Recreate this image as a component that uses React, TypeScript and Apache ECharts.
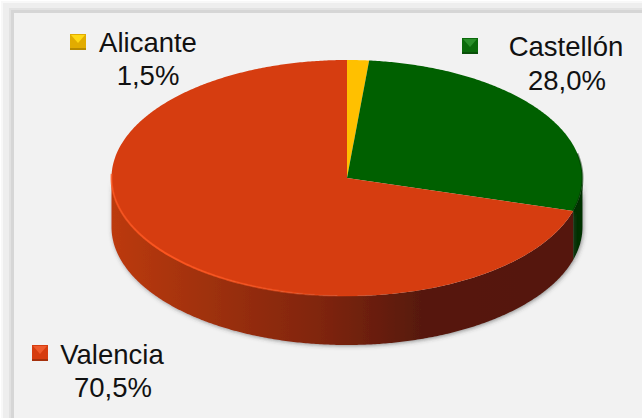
import React, { useEffect, useRef } from "react";
import * as echarts from "echarts";

const categories = ["Alicante", "Castellón", "Valencia"];
const shares = [1.5, 28.0, 70.5];
const shareLabels = ["1,5%", "28,0%", "70,5%"];

const faceColors = ["#FFC000", "#006000", "#D63D10"];
const keyLight = ["#FFD814", "#2A8F2A", "#EE5A2C"];
const keyMid = ["#E2AC00", "#0B6A0B", "#D63D10"];
const keyDark = ["#B88A00", "#0A500A", "#A5310D"];

const CX = 347;
const CY = 178;
const RX = 235.5;
const RY = 118;
const DEPTH = 49;
const FONT = "'Liberation Sans', Arial, sans-serif";
const FONT_SIZE = 27.5;
const KEY = 16;

const labelLayout = [
  { keyX: 70, keyY: 34, nameX: 148, nameY: 52, valueX: 148, valueY: 85 },
  { keyX: 462, keyY: 38, nameX: 566, nameY: 56, valueX: 567, valueY: 90 },
  { keyX: 32, keyY: 345, nameX: 112, nameY: 364, valueX: 113, valueY: 397 },
];

const total = shares.reduce((a, b) => a + b, 0);
const cumulative = (i: number) =>
  shares.slice(0, i).reduce((a, b) => a + b, 0) / total * 360;

const pt = (deg: number, dy = 0): [number, number] => {
  const r = (deg * Math.PI) / 180;
  return [CX + RX * Math.sin(r), CY - RY * Math.cos(r) + dy];
};
const arc = (a: number, b: number, dy = 0) => {
  const out: [number, number][] = [];
  const n = Math.max(2, Math.ceil(Math.abs(b - a) / 0.5));
  for (let k = 0; k <= n; k++) out.push(pt(a + ((b - a) * k) / n, dy));
  return out;
};

const renderWall = (params: any, api: any) => {
  const i = params.dataIndex;
  const a = Math.max(cumulative(i), 90);
  const b = Math.min(cumulative(i) + (api.value(1) / total) * 360, 270);
  if (b <= a) return { type: "group", children: [] };
  const pts = [...arc(a, b), ...arc(b, a, DEPTH)];
  const fill =
    i === 1
      ? "#013201"
      : new echarts.graphic.LinearGradient(1, 0, 0, 0, [
          { offset: 0, color: "#541808" },
          { offset: 0.33, color: "#571908" },
          { offset: 0.55, color: "#80250A" },
          { offset: 0.8, color: "#A0310E" },
          { offset: 1, color: "#BC3A10" },
        ]);
  return {
    type: "polygon",
    shape: { points: pts },
    style: {
      fill,
      shadowBlur: 4,
      shadowColor: "rgba(60,60,60,0.55)",
      shadowOffsetX: 1,
      shadowOffsetY: 1,
    },
  };
};

const renderFace = (params: any, api: any) => {
  const i = params.dataIndex;
  const a = cumulative(i);
  const b = a + (api.value(1) / total) * 360;
  const L = labelLayout[i];
  const text = (t: string, x: number, baseline: number) => ({
    type: "text",
    style: {
      text: t,
      x,
      y: baseline - FONT_SIZE * 0.36,
      fill: "#111111",
      font: `${FONT_SIZE}px ${FONT}`,
      align: "center",
      verticalAlign: "middle",
    },
  });
  const square = (
    pts: [number, number][],
    fill: string,
  ) => ({ type: "polygon", shape: { points: pts }, style: { fill } });
  const x0 = L.keyX;
  const y0 = L.keyY;
  const x1 = x0 + KEY;
  const y1 = y0 + KEY;
  const children: any[] = [
    {
      type: "polygon",
      shape: { points: [[CX, CY], ...arc(a, b)] },
      style: { fill: faceColors[i] },
    },
    square([[x0, y0], [x1, y0], [x1, y1], [x0, y1]], keyMid[i]),
    square([[x0 + 1, y0 + 1], [x1 - 1, y0 + 1], [(x0 + x1) / 2, y0 + 9]], keyLight[i]),
    square([[x0, y1 - 2], [x1, y1 - 2], [x1, y1], [x0, y1]], keyDark[i]),
    text(api.value(2) as string, L.nameX, L.nameY),
    text(api.value(3) as string, L.valueX, L.valueY),
  ];
  if (i === 1) {
    children.push({
      type: "polyline",
      shape: { points: arc(78, b) },
      style: { fill: "none", lineWidth: 2, stroke: "rgba(0,40,0,0.45)" },
    });
  }
  if (i === 2) {
    children.push({
      type: "polyline",
      shape: { points: arc(172, 272) },
      style: {
        fill: "none",
        lineWidth: 2,
        stroke: new echarts.graphic.LinearGradient(1, 0, 0, 0, [
          { offset: 0, color: "rgba(214,61,16,0)" },
          { offset: 0.35, color: "rgba(255,85,30,0.55)" },
          { offset: 0.8, color: "rgba(255,85,30,0.95)" },
          { offset: 1, color: "rgba(255,85,30,0.7)" },
        ]),
      },
    });
  }
  return { type: "group", children };
};

const rows = categories.map((c, i) => [i, shares[i], c, shareLabels[i]]);

export default function App() {
  const ref = useRef<HTMLDivElement>(null);
  useEffect(() => {
    document.body.style.margin = "0";
    const chart = echarts.init(ref.current!, undefined, { renderer: "svg" });
    const band = (x: number, y: number, fill: string, z: number) => ({
      type: "rect",
      z,
      shape: { x, y, width: 642 - x, height: 418 - y },
      style: { fill },
    });
    chart.setOption({
      animation: false,
      backgroundColor: "#ffffff",
      graphic: [
        band(1, 1, "#f8f8f8", -40),
        band(3, 3, "#eeeeee", -39),
        band(9, 8, "#e2e2e2", -38),
        band(11, 10, "#d6d6d6", -37),
        band(14, 13, "#f2f2f2", -36),
      ],
      series: [
        {
          type: "custom",
          coordinateSystem: "none",
          renderItem: renderWall,
          data: rows,
          silent: true,
          z: 2,
        },
        {
          type: "custom",
          coordinateSystem: "none",
          renderItem: renderFace,
          data: rows,
          silent: true,
          z: 3,
        },
      ],
    });
    return () => chart.dispose();
  }, []);
  return <div ref={ref} style={{ width: 642, height: 418 }} />;
}
